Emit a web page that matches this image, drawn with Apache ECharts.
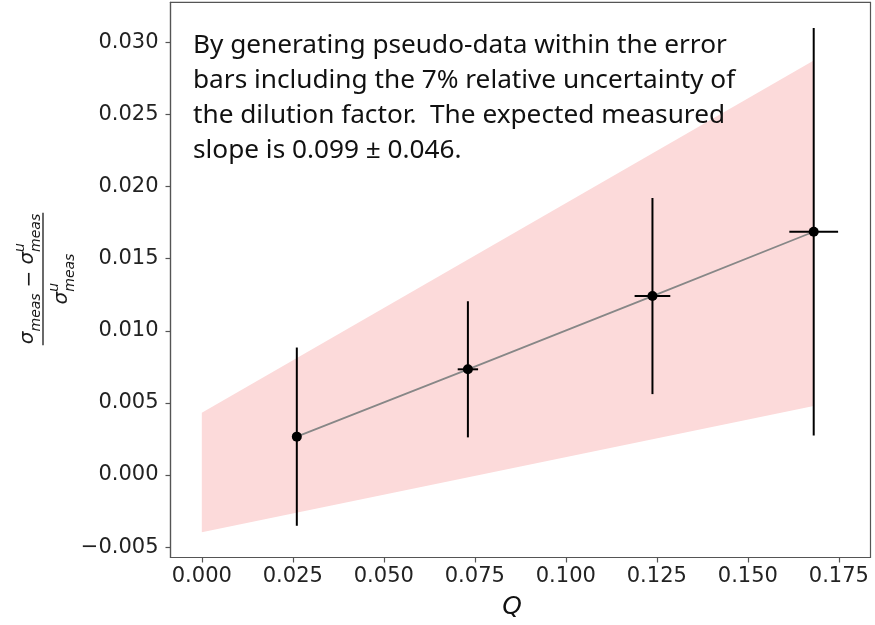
<!DOCTYPE html>
<html>
<head>
<meta charset="utf-8">
<script src="https://cdn.jsdelivr.net/npm/echarts@6/dist/echarts.min.js"></script>
<style>html,body{margin:0;padding:0;background:#fff}#c{width:875px;height:625px}</style>
</head>
<body>
<div id="c"></div>
<script>
// ---- data ----
const qValues = [0.0261, 0.0731, 0.1238, 0.1681];
const yValues = [0.00266, 0.00733, 0.01241, 0.01687];
const yErr = [0.00618, 0.00472, 0.0068, 0.01413];
const qErr = [0, 0.0028, 0.0049, 0.0067];
const bandQ = [0, 0.1681];
const bandUpper = [0.00432, 0.02874];
const bandLower = [-0.00397, 0.00479];
const xTicks = [0, 0.025, 0.05, 0.075, 0.1, 0.125, 0.15, 0.175];
const yTicks = [-0.005, 0, 0.005, 0.01, 0.015, 0.02, 0.025, 0.03];
const noteLines = [
  'By generating pseudo-data within the error',
  'bars including the 7% relative uncertainty of',
  'the dilution factor.  The expected measured',
  'slope is 0.099 \u00b1 0.046.'
];
const xName = 'Q';

// ---- helpers ----
const mctx = document.createElement('canvas').getContext('2d');
function tw(text, font) { mctx.font = font; return mctx.measureText(text).width; }
function fmt(v) { const s = Math.abs(v).toFixed(3); return v < -1e-9 ? '\u2212' + s : s; }

const noteFamily = '"Noto Sans"';
const noteSize = 24 * 534 / tw(noteLines[0], '24px ' + noteFamily);

// y-axis title (fraction) pieces
const F = (sz, it) => (it ? 'italic ' : '') + sz + 'px "DejaVu Sans"';
const big = 20, small = 14;
function fracChildren() {
  const ch = [];
  const fill = '#1a1a1a';
  function t(text, x, y, font) {
    ch.push({ type: 'text', x: x, y: y, style: { text: text, font: font, fill: fill, align: 'left', verticalAlign: 'middle' } });
  }
  let x = 0;
  const wS = tw('\u03c3', F(big, true)), wM = tw('meas', F(small, true)), wMinus = tw('\u2212', F(big, false));
  const num = [];
  num.push(['\u03c3', x, -15, F(big, true)]); x += wS;
  num.push(['meas', x, -7, F(small, true)]); x += wM;
  x += 6; num.push(['\u2212', x, -13, F(big, false)]); x += wMinus + 6;
  num.push(['\u03c3', x, -15, F(big, true)]); x += wS;
  num.push(['u', x, -23, F(small, true)]);
  num.push(['meas', x, -7, F(small, true)]); x += wM;
  const off = -x / 2;
  num.forEach(p => t(p[0], p[1] + off, p[2], p[3]));
  let d = 0; const den = [];
  den.push(['\u03c3', d, 19, F(big, true)]); d += wS;
  den.push(['u', d, 11, F(small, true)]);
  den.push(['meas', d, 27, F(small, true)]); d += wM;
  const doff = -d / 2;
  den.forEach(p => t(p[0], p[1] + doff, p[2], p[3]));
  ch.push({ type: 'line', shape: { x1: -x / 2 - 1, y1: 0, x2: x / 2 + 1, y2: 0 }, style: { stroke: fill, lineWidth: 1.3 } });
  return ch;
}

const chart = echarts.init(document.getElementById('c'), null, { renderer: 'canvas' });

const axisColor = '#555';
const pointData = qValues.map((q, i) => [q, yValues[i]]);
const errData = qValues.map((q, i) => [q, yValues[i], qErr[i], yErr[i]]);
const bandData = bandQ.map((q, i) => [q, bandUpper[i], bandLower[i]]);

const option = {
  animation: false,
  backgroundColor: '#fff',
  grid: {
    left: 170.5, top: 2.3, right: 4.5, bottom: 67.5,
    show: true, borderColor: axisColor, borderWidth: 1.2, backgroundColor: 'transparent',
    containLabel: false, outerBoundsMode: 'none'
  },
  xAxis: {
    type: 'value', min: -0.0086, max: 0.1837,
    axisLine: { show: true, onZero: false, lineStyle: { color: axisColor, width: 1.2 } },
    axisTick: { show: true, length: 5, lineStyle: { color: axisColor, width: 1.2 }, customValues: xTicks },
    axisLabel: { customValues: xTicks, formatter: fmt, fontSize: 21, fontFamily: '"DejaVu Sans"', color: '#222', margin: 9 },
    splitLine: { show: false }
  },
  yAxis: {
    type: 'value', min: -0.00572, max: 0.03278,
    axisLine: { show: true, onZero: false, lineStyle: { color: axisColor, width: 1.2 } },
    axisTick: { show: true, length: 5, lineStyle: { color: axisColor, width: 1.2 }, customValues: yTicks },
    axisLabel: { customValues: yTicks, formatter: fmt, fontSize: 21, fontFamily: '"DejaVu Sans"', color: '#222', margin: 12 },
    splitLine: { show: false }
  },
  series: [
    {
      type: 'custom', name: 'band', z: 1, clip: true,
      data: bandData,
      renderItem: function (params, api) {
        if (params.dataIndex !== 0) return null;
        const pts = [];
        bandData.forEach(d => pts.push(api.coord([d[0], d[1]])));
        for (let i = bandData.length - 1; i >= 0; i--) pts.push(api.coord([bandData[i][0], bandData[i][2]]));
        return { type: 'polygon', shape: { points: pts }, style: { fill: '#fcdada' } };
      }
    },
    {
      type: 'line', name: 'fit', z: 2, data: pointData, symbol: 'none',
      lineStyle: { color: '#878787', width: 1.8 }
    },
    {
      type: 'custom', name: 'err', z: 3, data: errData,
      renderItem: function (params, api) {
        const x = api.value(0), y = api.value(1), ex = api.value(2), ey = api.value(3);
        const top = api.coord([x, y + ey]), bot = api.coord([x, y - ey]);
        const children = [{ type: 'line', shape: { x1: top[0], y1: top[1], x2: bot[0], y2: bot[1] }, style: { stroke: '#000', lineWidth: 2 } }];
        if (ex > 0) {
          const l = api.coord([x - ex, y]), r = api.coord([x + ex, y]);
          children.push({ type: 'line', shape: { x1: l[0], y1: l[1], x2: r[0], y2: r[1] }, style: { stroke: '#000', lineWidth: 2 } });
        }
        return { type: 'group', children: children };
      }
    },
    {
      type: 'scatter', name: 'points', z: 4, data: pointData, symbol: 'circle', symbolSize: 10,
      itemStyle: { color: '#000', opacity: 1 }
    }
  ],
  graphic: [
    {
      type: 'text', x: 193, y: 28, z: 10,
      style: { text: noteLines.join('\n'), font: noteSize.toFixed(2) + 'px ' + noteFamily, fill: '#111', lineHeight: 35, verticalAlign: 'top', align: 'left' }
    },
    {
      type: 'text', x: 512, y: 607, z: 10,
      style: { text: xName, font: 'italic 25px "DejaVu Sans"', fill: '#111', align: 'center', verticalAlign: 'middle' }
    },
    {
      type: 'group', x: 43, y: 279, rotation: Math.PI / 2, z: 10,
      children: fracChildren()
    }
  ]
};
chart.setOption(option);
</script>
</body>
</html>
